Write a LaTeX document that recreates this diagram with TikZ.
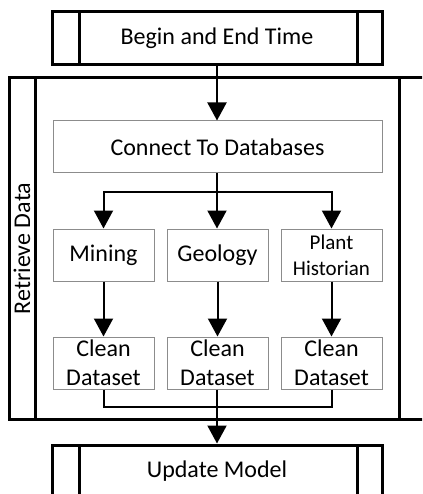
\documentclass[tikz,border=0pt]{standalone}
\usepackage{fontspec}
\setmainfont{Carlito}
\usetikzlibrary{arrows.meta}
\begin{document}
\begin{tikzpicture}[x=1pt,y=-1pt,
  thickbox/.style={draw=black,line width=3pt,minimum width=330pt,minimum height=53pt,inner sep=0pt,font=\fontsize{24}{28.5}\selectfont},
  thinbox/.style={draw=black!45,line width=1pt,minimum height=52pt,inner sep=0pt,align=center,font=\fontsize{24}{28.5}\selectfont},
  smallbox/.style={thinbox,minimum width=101pt},
  conn/.style={line width=2pt,draw=black},
  arr/.style={conn,-{Triangle[width=19pt,length=18pt]}}
]
\useasboundingbox (0,0) rectangle (422,494);
\clip (0,0) rectangle (422,494);
% frame Retrieve Data
\draw[line width=3pt] (9,78) rectangle (440,419);
\draw[line width=3pt] (35,78) -- (35,419);
\draw[line width=3pt] (399,78) -- (399,419);
\node[rotate=90,font=\fontsize{24}{28}\selectfont] (rd) at (22,248.5) {Retrieve Data};
% top box
\node[thickbox] (top) at (217,38.5) {Begin and End Time};
\draw[line width=3pt] (79,12) -- (79,65) (357,12) -- (357,65);
% connect
\node[thinbox,minimum width=329pt] (connect) at (217.5,147) {Connect To Databases};
\node[smallbox] (mining) at (103.5,255) {Mining};
\node[smallbox] (geology) at (217.5,255) {Geology};
\node[smallbox,font=\fontsize{21}{26}\selectfont] (plant) at (331.5,255) {Plant\\Historian};
\node[smallbox] (c1) at (103.5,363) {Clean\\Dataset};
\node[smallbox] (c2) at (217.5,363) {Clean\\Dataset};
\node[smallbox] (c3) at (331.5,363) {Clean\\Dataset};
% update
\node[thickbox] (update) at (217,471.5) {Update Model};
\draw[line width=3pt] (79,445) -- (79,498) (357,445) -- (357,498);
% connectors
\draw[arr] (top.south -| 217,0) -- (connect.north -| 217,0);
\coordinate (split) at (217,192);
\coordinate (merge) at (217,407);
\draw[conn] (connect.south -| split) -- (split);
\draw[arr] (split) -| (mining.north);
\draw[arr] (split) -- (geology.north -| split);
\draw[arr] (split) -| (plant.north);
\draw[arr] (mining) -- (c1);
\draw[arr] (geology) -- (c2);
\draw[arr] (plant) -- (c3);
\draw[conn] (c1.south) |- (merge);
\draw[conn] (c3.south) |- (merge);
\draw[arr] (c2.south -| merge) -- (update.north -| merge);
\end{tikzpicture}
\end{document}
